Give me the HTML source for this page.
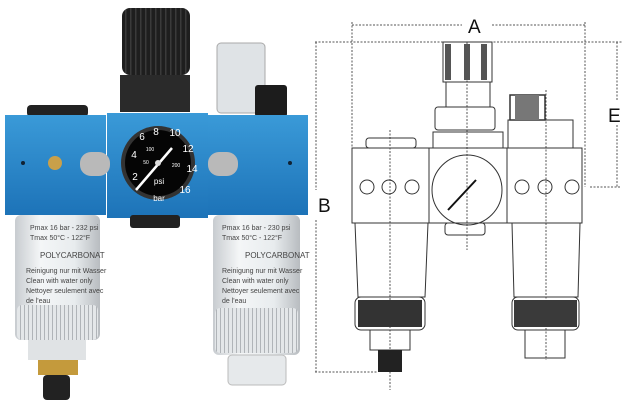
<!DOCTYPE html>
<html><head><style>html,body{margin:0;padding:0;background:#fff}svg{display:block}</style></head><body>
<svg width="626" height="409" viewBox="0 0 626 409" xmlns="http://www.w3.org/2000/svg" font-family="Liberation Sans, sans-serif">
<defs>
<linearGradient id="bl" x1="0" y1="0" x2="0" y2="1"><stop offset="0" stop-color="#3a9ad8"/><stop offset="1" stop-color="#1d73b8"/></linearGradient>
<linearGradient id="cl" x1="0" y1="0" x2="1" y2="0"><stop offset="0" stop-color="#c8ccd0"/><stop offset="0.3" stop-color="#f4f6f7"/><stop offset="0.7" stop-color="#e8ecee"/><stop offset="1" stop-color="#b8bcc0"/></linearGradient>
<pattern id="rib" width="4" height="10" patternUnits="userSpaceOnUse"><rect width="4" height="10" fill="#e4e7e9"/><rect width="1" height="10" fill="#b0b4b8"/></pattern>
<pattern id="krib" width="5" height="10" patternUnits="userSpaceOnUse"><rect width="5" height="10" fill="#1e1e1e"/><rect width="1.5" height="10" fill="#3a3a3a"/></pattern>
</defs>
<!-- PHOTO -->
<rect x="122" y="8" width="68" height="67" rx="8" fill="url(#krib)"/>
<rect x="120" y="75" width="70" height="37" fill="#2a2a2a"/>
<rect x="27" y="105" width="61" height="12" rx="4" fill="#222"/>
<rect x="217" y="43" width="48" height="70" rx="4" fill="#dfe3e6" stroke="#aaa"/>
<rect x="255" y="85" width="32" height="32" rx="3" fill="#1c1c1c"/>
<rect x="5" y="115" width="101" height="100" fill="url(#bl)"/>
<rect x="107" y="113" width="101" height="105" fill="url(#bl)"/>
<rect x="208" y="115" width="100" height="100" fill="url(#bl)"/>
<rect x="80" y="152" width="30" height="24" rx="11" fill="#b9b9b9"/>
<rect x="208" y="152" width="30" height="24" rx="11" fill="#b9b9b9"/>
<circle cx="55" cy="163" r="7" fill="#c9a04a"/>
<circle cx="23" cy="163" r="2" fill="#123"/><circle cx="290" cy="163" r="2" fill="#123"/>
<rect x="130" y="215" width="50" height="13" rx="3" fill="#222"/>
<circle cx="158" cy="163" r="37" fill="#333"/>
<circle cx="158" cy="163" r="33" fill="#050505"/>
<g fill="#fff" font-size="10" text-anchor="middle">
<text x="135" y="180">2</text><text x="134" y="158">4</text><text x="142" y="140">6</text><text x="156" y="135">8</text><text x="175" y="136">10</text><text x="188" y="152">12</text><text x="192" y="172">14</text><text x="185" y="193">16</text>
<text x="159" y="184" font-size="8">psi</text><text x="159" y="201" font-size="8">bar</text>
<text x="150" y="151" font-size="5">100</text><text x="146" y="164" font-size="5">50</text><text x="176" y="167" font-size="5">200</text>
</g>
<line x1="136" y1="190" x2="172" y2="148" stroke="#fff" stroke-width="2.5"/>
<circle cx="158" cy="163" r="3" fill="#ddd"/>
<rect x="15" y="215" width="85" height="125" rx="6" fill="url(#cl)"/>
<rect x="17" y="305" width="81" height="35" rx="5" fill="url(#rib)"/>
<rect x="28" y="340" width="58" height="20" fill="#e0e3e5"/>
<rect x="38" y="360" width="40" height="15" fill="#c49a3c"/>
<rect x="43" y="375" width="27" height="25" rx="4" fill="#222"/>
<rect x="213" y="215" width="87" height="140" rx="6" fill="url(#cl)"/>
<rect x="215" y="308" width="83" height="45" rx="5" fill="url(#rib)"/>
<rect x="228" y="355" width="58" height="30" rx="4" fill="#e6e9eb" stroke="#bbb"/>
<g fill="#444" font-size="7">
<text x="30" y="230">Pmax 16 bar - 232 psi</text><text x="30" y="240">Tmax 50°C - 122°F</text>
<text x="40" y="258" font-size="8">POLYCARBONAT</text>
<text x="26" y="273">Reinigung nur mit Wasser</text><text x="26" y="283">Clean with water only</text><text x="26" y="293">Nettoyer seulement avec</text><text x="26" y="303">de l'eau</text>
<text x="222" y="230">Pmax 16 bar - 230 psi</text><text x="222" y="240">Tmax 50°C - 122°F</text>
<text x="245" y="258" font-size="8">POLYCARBONAT</text>
<text x="222" y="273">Reinigung nur mit Wasser</text><text x="222" y="283">Clean with water only</text><text x="222" y="293">Nettoyer seulement avec</text><text x="222" y="303">de l'eau</text>
</g>
<!-- DRAWING -->
<g fill="none" stroke="#333" stroke-width="1">
<g stroke-dasharray="2,1.5" stroke="#555">
<line x1="352" y1="25" x2="462" y2="25"/><line x1="492" y1="25" x2="585" y2="25"/>
<line x1="352" y1="22" x2="352" y2="148"/><line x1="585" y1="22" x2="585" y2="187"/>
<line x1="315" y1="42" x2="622" y2="42"/>
<line x1="316" y1="42" x2="316" y2="190"/><line x1="316" y1="220" x2="316" y2="372"/>
<line x1="315" y1="372" x2="378" y2="372"/>
<line x1="617" y1="42" x2="617" y2="100"/><line x1="617" y1="125" x2="617" y2="187"/>
<line x1="590" y1="187" x2="620" y2="187"/>
<line x1="467" y1="42" x2="467" y2="250"/><line x1="390" y1="130" x2="390" y2="390"/><line x1="546" y1="90" x2="546" y2="360"/>
</g>
<rect x="443" y="42" width="49" height="40"/>
<rect x="446" y="82" width="44" height="25"/>
<rect x="435" y="107" width="60" height="23" rx="3"/>
<rect x="433" y="132" width="70" height="16"/>
<rect x="366" y="138" width="50" height="10" rx="3"/>
<rect x="510" y="95" width="35" height="25" stroke-width="1.5"/>
<rect x="508" y="120" width="65" height="28"/>
<rect x="352" y="148" width="77" height="75"/>
<rect x="429" y="148" width="78" height="75"/>
<rect x="507" y="148" width="75" height="75"/>
<circle cx="467" cy="190" r="35"/>
<rect x="445" y="223" width="40" height="12" rx="3"/>
<circle cx="367" cy="187" r="7"/><circle cx="389" cy="187" r="7"/><circle cx="412" cy="187" r="7"/>
<circle cx="522" cy="187" r="7"/><circle cx="545" cy="187" r="7"/><circle cx="572" cy="187" r="7"/>
<path d="M355 223 L358 297 L425 297 L428 223"/>
<path d="M512 223 L514 297 L578 297 L580 223"/>
<rect x="355" y="297" width="70" height="33" rx="6"/>
<rect x="512" y="297" width="67" height="33" rx="6"/>
<rect x="370" y="330" width="40" height="20"/>
<rect x="525" y="330" width="40" height="28"/>
</g>
<g fill="#555">
<rect x="445" y="44" width="6" height="36"/><rect x="464" y="44" width="6" height="36"/><rect x="481" y="44" width="6" height="36"/>
<rect x="515" y="95" width="24" height="25" fill="#777"/>
<rect x="358" y="300" width="64" height="27" fill="#333"/>
<rect x="514" y="300" width="63" height="27" fill="#3a3a3a"/>
<rect x="378" y="350" width="24" height="22" fill="#222"/>
</g>
<line x1="448" y1="210" x2="476" y2="180" stroke="#111" stroke-width="2"/>
<g font-size="19" fill="#111">
<text x="468" y="33">A</text><text x="318" y="212">B</text><text x="608" y="122">E</text>
</g>
</svg>
</body></html>
